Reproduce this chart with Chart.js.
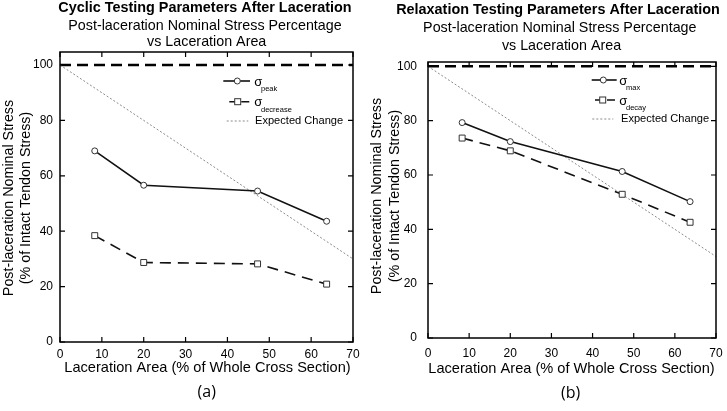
<!DOCTYPE html>
<html>
<head>
<meta charset="utf-8">
<script src="https://cdn.jsdelivr.net/npm/chart.js@4.4.1/dist/chart.umd.min.js"></script>
<style>
html, body { margin: 0; padding: 0; background: #fff; }
#wrap { position: relative; width: 727px; height: 411px; overflow: hidden; }
canvas { position: absolute; top: 0; }
#cA { left: 0; }
#cB { left: 364px; }
</style>
</head>
<body>
<div id="wrap">
  <canvas id="cA" width="364" height="411"></canvas>
  <canvas id="cB" width="363" height="411"></canvas>
</div>
<script>
// values
const lacerationArea = [8.3, 20.0, 47.2, 63.7];
const cyclicPeak = [69.0, 56.6, 54.5, 43.6];
const cyclicDecrease = [38.4, 28.7, 28.2, 20.9];
const relaxMax = [79.3, 72.3, 61.3, 50.2];
const relaxDecay = [73.6, 68.9, 52.9, 42.6];
const expectedX = [0, 70];
const expectedY = [100, 30];
const intactX = [0, 70];
const intactY = [100, 100];
const xTicks = [0, 10, 20, 30, 40, 50, 60, 70];
const yTicks = [0, 20, 40, 60, 80, 100];

const FONT = "'Liberation Sans', Arial, sans-serif";
const pts = (xs, ys) => xs.map((x, i) => ({ x: x, y: ys[i] }));

function makePanel(id, p) {
  const textPlugin = {
    id: 'frameText',
    afterDatasetsDraw(chart) {
      const ctx = chart.ctx, a = chart.chartArea;
      const xs = chart.scales.x, ys = chart.scales.y;
      ctx.save();
      // box + inward ticks on all sides
      ctx.strokeStyle = '#000';
      ctx.lineWidth = 1.5;
      ctx.strokeRect(a.left, a.top, a.right - a.left, a.bottom - a.top);
      ctx.lineWidth = 1.2;
      ctx.beginPath();
      xTicks.forEach(v => {
        const px = xs.getPixelForValue(v);
        ctx.moveTo(px, a.bottom); ctx.lineTo(px, a.bottom - 5);
        ctx.moveTo(px, a.top); ctx.lineTo(px, a.top + 5);
      });
      yTicks.forEach(v => {
        const py = ys.getPixelForValue(v);
        ctx.moveTo(a.left, py); ctx.lineTo(a.left + 5, py);
        ctx.moveTo(a.right, py); ctx.lineTo(a.right - 5, py);
      });
      ctx.stroke();

      ctx.fillStyle = '#000';
      ctx.textAlign = 'center';
      ctx.textBaseline = 'alphabetic';
      ctx.font = 'bold 14.4px ' + FONT;
      ctx.fillText(p.title, p.titleX, p.titleY);
      ctx.font = '14.3px ' + FONT;
      ctx.fillText(p.sub1, p.sub1X, p.sub1Y);
      ctx.fillText(p.sub2, p.sub2X, p.sub2Y);

      // x axis title
      ctx.font = '14.6px ' + FONT;
      ctx.fillText('Laceration Area (% of Whole Cross Section)', p.xTitleX, p.xTitleY);

      // y axis title (two lines, rotated)
      ctx.save();
      ctx.font = '14.3px ' + FONT;
      ctx.translate(p.yT1, p.yTitleC);
      ctx.rotate(-Math.PI / 2);
      ctx.fillText('Post-laceration Nominal Stress', 0, 0);
      ctx.restore();
      ctx.save();
      ctx.font = '14.3px ' + FONT;
      ctx.translate(p.yT2, p.yTitleC);
      ctx.rotate(-Math.PI / 2);
      ctx.fillText('(% of Intact Tendon Stress)', 0, 0);
      ctx.restore();

      // panel label
      ctx.font = "16px 'Open Sans', 'Noto Sans', sans-serif";
      ctx.fillText(p.panel, p.panelX, p.panelY);

      // legend
      const L = p.legend;
      ctx.lineWidth = 1.6;
      ctx.strokeStyle = '#111';
      ctx.setLineDash([]);
      ctx.beginPath(); ctx.moveTo(L.l1[0], L.r1); ctx.lineTo(L.l1[1], L.r1); ctx.stroke();
      ctx.setLineDash([8, 4]);
      ctx.beginPath(); ctx.moveTo(L.l2[0], L.r2); ctx.lineTo(L.l2[1], L.r2); ctx.stroke();
      ctx.setLineDash([2, 2]);
      ctx.lineWidth = 1;
      ctx.strokeStyle = '#8a8a8a';
      ctx.beginPath(); ctx.moveTo(L.l3[0], L.r3); ctx.lineTo(L.l3[1], L.r3); ctx.stroke();
      ctx.setLineDash([]);
      ctx.strokeStyle = '#333';
      ctx.fillStyle = '#fff';
      ctx.beginPath(); ctx.arc(L.m1, L.r1, 3, 0, Math.PI * 2); ctx.fill(); ctx.stroke();
      ctx.fillRect(L.m2 - 3, L.r2 - 3, 6, 6); ctx.strokeRect(L.m2 - 3, L.r2 - 3, 6, 6);

      ctx.fillStyle = '#000';
      ctx.textAlign = 'left';
      ctx.textBaseline = 'middle';
      ctx.font = '13px ' + FONT;
      ctx.fillText('σ', L.sx, L.r1 + 1);
      ctx.fillText('σ', L.sx, L.r2 + 1);
      ctx.font = '7.5px ' + FONT;
      ctx.fillText(p.s1sub, L.subX, L.r1 + 8);
      ctx.fillText(p.s2sub, L.subX, L.r2 + 8);
      ctx.font = '11.1px ' + FONT;
      ctx.fillText('Expected Change', L.tx, L.r3);
      ctx.restore();
    }
  };

  return new Chart(document.getElementById(id), {
    type: 'line',
    data: {
      datasets: [
        { label: 'Intact', data: pts(intactX, intactY), borderColor: '#000', borderWidth: 2.5,
          borderDash: [11, 6], pointRadius: 0, order: 3 },
        { label: 'Expected Change', data: pts(expectedX, expectedY), borderColor: '#8a8a8a', borderWidth: 1,
          borderDash: [2, 2], pointRadius: 0, order: 2 },
        { label: p.s1sub, data: pts(lacerationArea, p.y1), borderColor: '#111', borderWidth: 1.6,
          pointRadius: 3, pointBorderWidth: 1, pointBorderColor: '#333', pointBackgroundColor: '#fff', order: 1 },
        { label: p.s2sub, data: pts(lacerationArea, p.y2), borderColor: '#111', borderWidth: 1.6,
          borderDash: [11, 7], pointStyle: 'rect', pointRadius: 4.2, pointBorderWidth: 1,
          pointBorderColor: '#333', pointBackgroundColor: '#fff', order: 0 }
      ]
    },
    options: {
      responsive: false,
      animation: false,
      layout: { padding: { left: 0, right: p.padR, top: p.padT, bottom: 0 } },
      plugins: { legend: { display: false }, tooltip: { enabled: false } },
      scales: {
        x: {
          type: 'linear', min: 0, max: 70,
          afterBuildTicks: s => { s.ticks = xTicks.map(v => ({ value: v })); },
          afterFit: s => { s.height = p.xH; s.paddingLeft = 0; s.paddingRight = 0; },
          grid: { display: false, drawTicks: false },
          border: { display: false },
          ticks: { padding: p.xPad, color: '#000', font: { family: FONT, size: 12 }, maxRotation: 0, autoSkip: false }
        },
        y: {
          min: 0, max: p.yMax,
          afterBuildTicks: s => { s.ticks = yTicks.map(v => ({ value: v })); },
          afterFit: s => { s.width = p.yW; s.paddingTop = 0; s.paddingBottom = 0; },
          grid: { display: false, drawTicks: false },
          border: { display: false },
          ticks: { padding: p.yPad, color: '#000', font: { family: FONT, size: 12 } }
        }
      }
    },
    plugins: [textPlugin]
  });
}

makePanel('cA', {
  y1: cyclicPeak, y2: cyclicDecrease, s1sub: 'peak', s2sub: 'decrease',
  yMax: 104.7, padR: 11, padT: 52, xH: 69, yW: 60, xPad: 5, yPad: 7,
  title: 'Cyclic Testing Parameters After Laceration', titleX: 205, titleY: 12,
  sub1: 'Post-laceration Nominal Stress Percentage', sub1X: 205, sub1Y: 29.5,
  sub2: 'vs Laceration Area', sub2X: 206.7, sub2Y: 46,
  xTitleX: 207.5, xTitleY: 372, yT1: 13, yT2: 30, yTitleC: 198,
  panel: '(a)', panelX: 206.7, panelY: 397,
  legend: { r1: 81, r2: 101.7, r3: 121, l1: [223.3, 250], l2: [229.3, 250], l3: [226.7, 248.3],
            m1: 237.3, m2: 237.7, sx: 254.3, subX: 261, tx: 255 }
});

makePanel('cB', {
  y1: relaxMax, y2: relaxDecay, s1sub: 'max', s2sub: 'decay',
  yMax: 101.6, padR: 11, padT: 62, xH: 73, yW: 64, xPad: 8, yPad: 11,
  title: 'Relaxation Testing Parameters After Laceration', titleX: 194, titleY: 13.5,
  sub1: 'Post-laceration Nominal Stress Percentage', sub1X: 195.8, sub1Y: 32,
  sub2: 'vs Laceration Area', sub2X: 197.5, sub2Y: 49.5,
  xTitleX: 207.5, xTitleY: 373, yT1: 17, yT2: 35, yTitleC: 196,
  panel: '(b)', panelX: 206.7, panelY: 398,
  legend: { r1: 80, r2: 100, r3: 119, l1: [227.7, 252.7], l2: [231, 254.3], l3: [228.3, 249.3],
            m1: 239.3, m2: 238.7, sx: 255.3, subX: 262, tx: 257 }
});
</script>
</body>
</html>
